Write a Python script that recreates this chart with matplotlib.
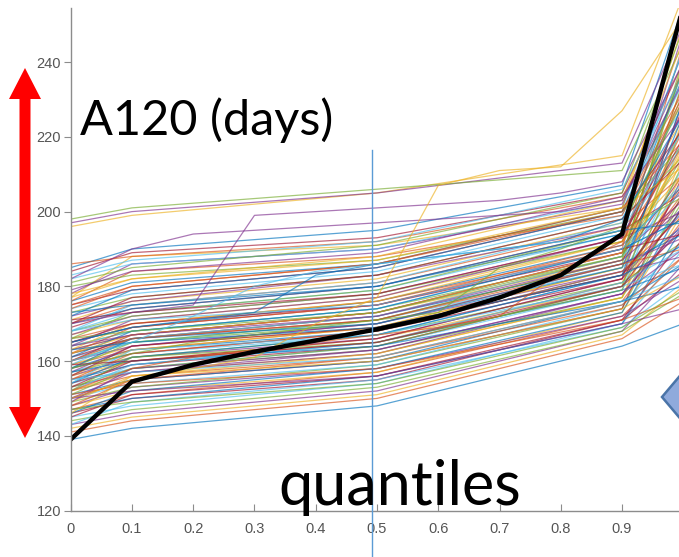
import numpy as np
import matplotlib
matplotlib.use("Agg")
import matplotlib.pyplot as plt
from matplotlib.patches import Polygon

# ========================
# ДАННЫЕ
# ========================
# квантили, на которых заданы большинство кривых
q_knots = [0.0, 0.1, 0.5, 0.9, 1.0]
runs_knots = [
    [139, 142, 148, 164, 170], [141, 144, 150, 166, 176], [142, 145, 151, 167, 180],
    [143, 146, 152, 168, 186], [144, 147, 153, 168, 178], [145, 148, 154, 170, 190],
    [146, 150, 155, 171, 184], [147, 150, 156, 170, 196], [147, 151, 157, 172, 188],
    [148, 152, 157, 173, 200], [148, 153, 158, 172, 182], [149, 153, 159, 174, 205],
    [150, 154, 159, 175, 192], [150, 155, 160, 174, 210], [151, 155, 160, 176, 186],
    [152, 156, 161, 176, 198], [152, 157, 162, 177, 215], [153, 157, 162, 178, 190],
    [153, 158, 163, 177, 203], [154, 158, 164, 179, 220], [154, 159, 164, 180, 195],
    [155, 159, 165, 179, 185], [155, 160, 165, 181, 208], [156, 160, 166, 180, 225],
    [156, 161, 166, 182, 200], [157, 161, 167, 181, 192], [157, 162, 167, 183, 212],
    [158, 162, 168, 182, 230], [158, 163, 168, 184, 196], [159, 163, 169, 183, 205],
    [159, 164, 169, 185, 218], [160, 164, 170, 184, 188], [160, 165, 170, 186, 235],
    [161, 165, 171, 185, 200], [161, 166, 171, 187, 210], [162, 166, 172, 186, 194],
    [162, 166, 172, 188, 222], [163, 167, 173, 187, 240], [163, 167, 173, 189, 203],
    [164, 168, 174, 188, 215], [164, 168, 174, 190, 198], [165, 169, 175, 189, 228],
    [165, 169, 176, 191, 207], [166, 170, 176, 190, 245], [167, 171, 177, 192, 213],
    [167, 172, 178, 193, 200], [168, 172, 178, 192, 232], [168, 173, 179, 194, 218],
    [169, 174, 180, 195, 205], [170, 174, 180, 194, 238], [170, 175, 181, 196, 210],
    [171, 176, 182, 197, 225], [172, 176, 183, 196, 248], [173, 177, 183, 198, 215],
    [174, 178, 184, 199, 235], [175, 179, 185, 200, 222], [176, 181, 186, 201, 243],
    [176, 184, 188, 199, 230], [177, 188, 191, 201, 250], [178, 186, 190, 202, 238],
    [180, 183, 187, 200, 218], [182, 186, 190, 203, 228], [184, 189, 193, 205, 240],
    [185, 190, 195, 207, 255], [186, 188, 192, 204, 232], [196, 199, 205, 215, 258],
    [197, 200, 205, 213, 250], [198, 201, 206, 211, 245],
    [143, 149, 155, 169, 181], [145, 151, 156, 171, 193], [146, 152, 158, 173, 202],
    [148, 155, 161, 175, 188], [149, 156, 162, 177, 211], [150, 157, 163, 178, 196],
    [151, 158, 164, 180, 224], [152, 159, 165, 181, 190], [153, 160, 166, 182, 207],
    [154, 161, 167, 183, 230], [155, 162, 168, 184, 199], [156, 163, 169, 185, 217],
    [157, 164, 170, 186, 193], [158, 165, 171, 187, 241], [159, 166, 172, 188, 206],
    [160, 167, 173, 189, 220], [161, 168, 174, 190, 198], [162, 169, 175, 191, 234],
    [163, 170, 176, 192, 210], [164, 171, 177, 193, 227], [166, 173, 179, 195, 204],
    [168, 175, 181, 197, 244], [170, 177, 183, 198, 214], [172, 179, 185, 200, 236],
    [174, 180, 186, 201, 219], [177, 182, 188, 203, 246], [179, 184, 189, 204, 226],
    [181, 185, 191, 205, 249], [183, 187, 192, 206, 237], [165, 170, 175, 190, 194],
    [157, 160, 164, 176, 180], [151, 154, 158, 171, 177],
    [146, 156, 160, 174, 183], [149, 158, 163, 178, 197], [152, 161, 165, 179, 213],
    [154, 163, 167, 180, 186], [156, 164, 169, 183, 204], [158, 166, 170, 185, 226],
    [160, 166, 171, 186, 190], [162, 167, 173, 189, 216], [164, 167, 172, 187, 201],
    [166, 168, 173, 188, 239], [168, 171, 175, 190, 208], [171, 173, 178, 193, 223],
    [173, 175, 180, 195, 197], [175, 180, 186, 200, 231], [178, 182, 187, 201, 212],
    [150, 152, 156, 170, 174], [147, 149, 154, 169, 179], [155, 157, 161, 176, 183],
    [159, 160, 165, 180, 201], [163, 165, 169, 183, 191],
]

# кривые со скачками между квантилями (все 11 точек)
q_full = [0.0, 0.1, 0.2, 0.3, 0.4, 0.5, 0.6, 0.7, 0.8, 0.9, 1.0]
runs_full = [
    [182, 190, 194, 195, 196, 197, 198, 199, 200, 203, 235],
    [170, 173, 175, 199, 200, 201, 202, 203, 205, 208, 240],
    [150, 155, 158, 161, 170, 177, 207, 211, 212, 227, 252],
    [158, 162, 165, 167, 169, 171, 173, 185, 190, 196, 230],
    [165, 169, 171, 173, 183, 186, 188, 190, 192, 198, 226],
    [152, 158, 161, 163, 165, 167, 169, 172, 184, 192, 218],
    [160, 165, 172, 180, 184, 186, 188, 190, 192, 195, 222],
]
runs_full_colors = ['#7E2F8E', '#7E2F8E', '#EDB120', '#77AC30',
                    '#0072BD', '#D95319', '#4DBEEE']

# выделенная (чёрная) кривая
black_run = [139, 154.5, 159, 162.5, 165.5, 168.5, 172, 177, 183, 194, 255]

y_ticks = [120, 140, 160, 180, 200, 220, 240]
x_ticks = [0, 0.1, 0.2, 0.3, 0.4, 0.5, 0.6, 0.7, 0.8, 0.9]

# цвета MATLAB по умолчанию
MATLAB_COLORS = ['#0072BD', '#D95319', '#EDB120', '#7E2F8E',
                 '#77AC30', '#4DBEEE', '#A2142F']

# ========================
# ПОСТРОЕНИЕ
# ========================
W, H = 679, 557
fig = plt.figure(figsize=(W / 100, H / 100), dpi=100)
ax = fig.add_axes([70.7 / W, (H - 510.5) / H, 612.6 / W, 502.5 / H])

for k, run in enumerate(runs_knots):
    ax.plot(q_knots, run, color=MATLAB_COLORS[k % 7], lw=0.9, alpha=0.65)
for run, c in zip(runs_full, runs_full_colors):
    ax.plot(q_full, run, color=c, lw=0.9, alpha=0.65)
ax.plot(q_full, black_run, color='black', lw=3.2, solid_joinstyle='miter')

ax.set_xlim(0, 1)
ax.set_ylim(120, 254.5)
ax.set_xticks(x_ticks)
ax.set_xticklabels([f"{t:g}" for t in x_ticks])
ax.set_yticks(y_ticks)

for s in ['top', 'right']:
    ax.spines[s].set_visible(False)
for s in ['left', 'bottom']:
    ax.spines[s].set_color('#8c8c8c')
    ax.spines[s].set_linewidth(1.0)
ax.tick_params(axis='x', direction='in', length=5, color='#8c8c8c',
               labelcolor='#555555', labelsize=10.5, pad=8)
ax.tick_params(axis='y', direction='out', length=5, color='#8c8c8c',
               labelcolor='#555555', labelsize=10.5, pad=2)
for lab in ax.get_xticklabels() + ax.get_yticklabels():
    lab.set_family('Liberation Sans')

# ========================
# ПОДПИСИ И ФИГУРЫ (в пикселях)
# ========================
def px(x, y):
    return (x / 100, (H - y) / 100)

fig.text(80 / W, (H - 135) / H, "A120 (days)", fontsize=35, family='Lato',
         color='black', ha='left', va='baseline')
fig.text(278 / W, (H - 505) / H, "quantiles", fontsize=44, family='Lato',
         color='black', ha='left', va='baseline')

# красная двойная стрелка
arrow = [px(25, 68), px(41, 99), px(30.5, 99), px(30.5, 407), px(41, 407),
         px(25, 438), px(9, 407), px(19.5, 407), px(19.5, 99), px(9, 99)]
fig.patches.append(Polygon(arrow, closed=True, facecolor='#ff0000',
                           edgecolor='none', transform=fig.dpi_scale_trans))

# синий треугольник справа
tri = [px(662, 397), px(700, 352), px(700, 442)]
fig.patches.append(Polygon(tri, closed=True, facecolor='#8faadc',
                           edgecolor='#4a74a8', lw=1.8,
                           transform=fig.dpi_scale_trans))

# вертикальная синяя линия
fig.add_artist(plt.Line2D([372 / W, 372 / W], [0, (H - 150) / H],
                          color='#5b9bd5', lw=1.0, transform=fig.transFigure))

fig.savefig("out.png", dpi=100)
